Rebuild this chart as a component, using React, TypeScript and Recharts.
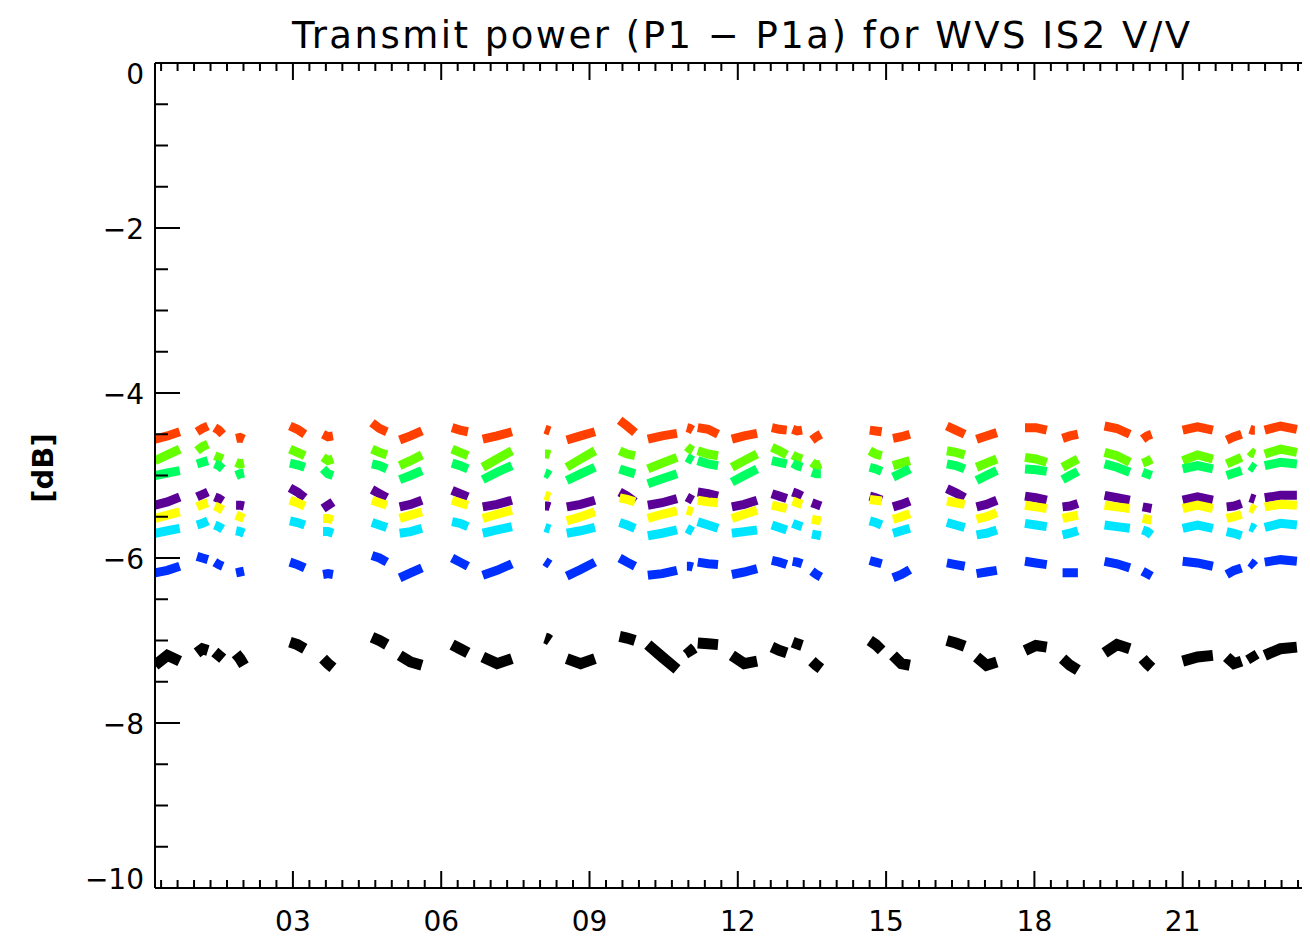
import { LineChart, Line, XAxis, YAxis } from "recharts";

// one row per pass: start / middle / end time of the pass, hours of the day
const passes: number[][] = [
  [0.21, 0.46, 0.71], [1.06, 1.17, 1.28], [1.42, 1.5, 1.58], [1.85, 1.93, 2.01],
  [2.94, 3.09, 3.24], [3.61, 3.71, 3.81], [4.6, 4.75, 4.9], [5.16, 5.38, 5.61],
  [6.22, 6.38, 6.54], [6.84, 7.13, 7.43], [8.1, 8.15, 8.2], [8.54, 8.82, 9.11],
  [9.61, 9.76, 9.92], [10.18, 10.47, 10.77], [10.97, 11.03, 11.09], [11.19, 11.4, 11.6],
  [11.88, 12.13, 12.39], [12.69, 12.84, 12.99], [13.11, 13.2, 13.3], [13.5, 13.59, 13.68],
  [14.67, 14.79, 14.91], [15.14, 15.31, 15.48], [16.23, 16.41, 16.59], [16.83, 17.03, 17.24],
  [17.81, 18.03, 18.25], [18.57, 18.72, 18.88], [19.42, 19.67, 19.93], [20.19, 20.28, 20.37],
  [21.0, 21.3, 21.61], [21.89, 22.04, 22.19], [22.36, 22.41, 22.46], [22.66, 22.98, 23.31],
  [23.5, 23.65, 23.8],
];

// transmit power per pass [dB], same order as passes
const red: number[][] = [
  [-4.56, -4.52, -4.47], [-4.47, -4.43, -4.4], [-4.42, -4.45, -4.5], [-4.55, -4.54, -4.56],
  [-4.4, -4.44, -4.5], [-4.5, -4.53, -4.52], [-4.36, -4.43, -4.47], [-4.57, -4.52, -4.46],
  [-4.42, -4.45, -4.47], [-4.56, -4.52, -4.47], [-4.44, -4.45, -4.46], [-4.57, -4.52, -4.47],
  [-4.33, -4.4, -4.48], [-4.56, -4.52, -4.49], [-4.42, -4.43, -4.45], [-4.42, -4.44, -4.5],
  [-4.56, -4.52, -4.49], [-4.42, -4.44, -4.45], [-4.44, -4.46, -4.45], [-4.57, -4.53, -4.5],
  [-4.45, -4.46, -4.47], [-4.55, -4.53, -4.5], [-4.4, -4.45, -4.5], [-4.56, -4.52, -4.48],
  [-4.42, -4.42, -4.45], [-4.55, -4.52, -4.5], [-4.4, -4.43, -4.5], [-4.56, -4.52, -4.5],
  [-4.45, -4.41, -4.45], [-4.57, -4.53, -4.5], [-4.44, -4.45, -4.45], [-4.45, -4.4, -4.44],
  [-4.5, -4.47, -4.47],
];
const lime: number[][] = [
  [-4.82, -4.75, -4.68], [-4.7, -4.65, -4.62], [-4.76, -4.78, -4.8], [-4.84, -4.86, -4.85],
  [-4.68, -4.72, -4.76], [-4.78, -4.82, -4.8], [-4.68, -4.72, -4.75], [-4.88, -4.82, -4.75],
  [-4.68, -4.72, -4.76], [-4.9, -4.8, -4.7], [-4.74, -4.74, -4.75], [-4.9, -4.8, -4.7],
  [-4.7, -4.74, -4.76], [-4.92, -4.85, -4.78], [-4.65, -4.68, -4.7], [-4.7, -4.74, -4.76],
  [-4.9, -4.82, -4.74], [-4.66, -4.7, -4.75], [-4.75, -4.78, -4.8], [-4.84, -4.88, -4.86],
  [-4.7, -4.74, -4.76], [-4.88, -4.85, -4.82], [-4.7, -4.72, -4.75], [-4.9, -4.85, -4.8],
  [-4.78, -4.8, -4.84], [-4.9, -4.85, -4.8], [-4.72, -4.76, -4.84], [-4.85, -4.83, -4.8],
  [-4.82, -4.75, -4.8], [-4.86, -4.82, -4.78], [-4.7, -4.73, -4.74], [-4.74, -4.68, -4.72],
  [-4.8, -4.78, -4.76],
];
const green: number[][] = [
  [-5.0, -4.97, -4.94], [-4.86, -4.84, -4.82], [-4.86, -4.88, -4.92], [-5.0, -4.98, -4.97],
  [-4.85, -4.87, -4.9], [-4.92, -4.98, -5.0], [-4.86, -4.88, -4.92], [-5.05, -5.0, -4.94],
  [-4.85, -4.88, -4.92], [-5.05, -4.96, -4.88], [-4.97, -4.98, -5.0], [-5.06, -4.98, -4.9],
  [-4.92, -4.95, -4.98], [-5.1, -5.04, -4.98], [-4.78, -4.8, -4.82], [-4.82, -4.86, -4.88],
  [-5.08, -5.0, -4.92], [-4.82, -4.84, -4.86], [-4.85, -4.88, -4.9], [-4.96, -4.98, -4.98],
  [-4.9, -4.92, -4.95], [-5.02, -4.97, -4.92], [-4.86, -4.88, -4.92], [-5.06, -5.0, -4.94],
  [-4.92, -4.93, -4.95], [-5.05, -5.0, -4.95], [-4.86, -4.9, -4.96], [-4.96, -4.98, -5.0],
  [-4.92, -4.88, -4.92], [-5.0, -4.97, -4.94], [-4.88, -4.9, -4.92], [-4.88, -4.84, -4.86],
  [-4.94, -4.92, -4.92],
];
const purple: number[][] = [
  [-5.36, -5.32, -5.26], [-5.26, -5.23, -5.2], [-5.26, -5.28, -5.31], [-5.36, -5.36, -5.37],
  [-5.15, -5.2, -5.27], [-5.4, -5.36, -5.32], [-5.17, -5.22, -5.27], [-5.38, -5.35, -5.3],
  [-5.18, -5.22, -5.26], [-5.38, -5.35, -5.3], [-5.37, -5.37, -5.38], [-5.38, -5.35, -5.3],
  [-5.2, -5.25, -5.32], [-5.36, -5.33, -5.28], [-5.26, -5.28, -5.3], [-5.2, -5.22, -5.25],
  [-5.38, -5.35, -5.3], [-5.22, -5.25, -5.28], [-5.2, -5.22, -5.25], [-5.33, -5.35, -5.37],
  [-5.25, -5.27, -5.3], [-5.38, -5.35, -5.31], [-5.16, -5.21, -5.27], [-5.38, -5.35, -5.3],
  [-5.25, -5.27, -5.3], [-5.38, -5.37, -5.34], [-5.24, -5.27, -5.3], [-5.38, -5.39, -5.4],
  [-5.3, -5.26, -5.3], [-5.38, -5.37, -5.34], [-5.27, -5.28, -5.29], [-5.27, -5.24, -5.24],
  [-5.3, -5.28, -5.28],
];
const yellow: number[][] = [
  [-5.52, -5.48, -5.44], [-5.38, -5.35, -5.33], [-5.37, -5.39, -5.42], [-5.48, -5.5, -5.52],
  [-5.3, -5.33, -5.37], [-5.52, -5.52, -5.54], [-5.3, -5.33, -5.36], [-5.52, -5.48, -5.44],
  [-5.3, -5.33, -5.36], [-5.52, -5.47, -5.42], [-5.24, -5.25, -5.26], [-5.55, -5.5, -5.44],
  [-5.27, -5.29, -5.32], [-5.52, -5.47, -5.43], [-5.42, -5.43, -5.44], [-5.3, -5.32, -5.33],
  [-5.52, -5.47, -5.42], [-5.36, -5.38, -5.4], [-5.31, -5.33, -5.35], [-5.53, -5.54, -5.55],
  [-5.29, -5.3, -5.31], [-5.53, -5.5, -5.46], [-5.31, -5.33, -5.35], [-5.53, -5.5, -5.45],
  [-5.36, -5.38, -5.4], [-5.52, -5.5, -5.48], [-5.36, -5.38, -5.4], [-5.52, -5.53, -5.54],
  [-5.4, -5.36, -5.4], [-5.52, -5.5, -5.47], [-5.39, -5.4, -5.42], [-5.38, -5.35, -5.36],
  [-5.4, -5.38, -5.38],
];
const cyan: number[][] = [
  [-5.7, -5.67, -5.64], [-5.6, -5.58, -5.55], [-5.6, -5.62, -5.65], [-5.67, -5.68, -5.7],
  [-5.55, -5.57, -5.6], [-5.68, -5.68, -5.7], [-5.57, -5.6, -5.63], [-5.7, -5.68, -5.64],
  [-5.56, -5.58, -5.62], [-5.7, -5.66, -5.62], [-5.63, -5.64, -5.65], [-5.7, -5.67, -5.63],
  [-5.57, -5.6, -5.64], [-5.73, -5.7, -5.66], [-5.64, -5.66, -5.68], [-5.56, -5.6, -5.64],
  [-5.7, -5.68, -5.66], [-5.6, -5.63, -5.66], [-5.58, -5.6, -5.62], [-5.71, -5.72, -5.73],
  [-5.55, -5.57, -5.6], [-5.7, -5.67, -5.64], [-5.57, -5.6, -5.63], [-5.72, -5.7, -5.66],
  [-5.58, -5.6, -5.62], [-5.72, -5.7, -5.67], [-5.6, -5.62, -5.64], [-5.66, -5.68, -5.72],
  [-5.64, -5.6, -5.64], [-5.68, -5.7, -5.73], [-5.62, -5.63, -5.65], [-5.63, -5.58, -5.6],
  [-5.64, -5.62, -5.62],
];
const blue: number[][] = [
  [-6.18, -6.15, -6.1], [-5.98, -6.0, -6.02], [-6.05, -6.08, -6.1], [-6.18, -6.17, -6.16],
  [-6.05, -6.08, -6.12], [-6.2, -6.19, -6.2], [-5.97, -6.0, -6.05], [-6.24, -6.18, -6.12],
  [-6.0, -6.05, -6.1], [-6.21, -6.15, -6.07], [-6.04, -6.06, -6.08], [-6.22, -6.14, -6.05],
  [-6.0, -6.05, -6.1], [-6.21, -6.19, -6.15], [-6.1, -6.1, -6.11], [-6.05, -6.07, -6.08],
  [-6.2, -6.17, -6.13], [-6.03, -6.05, -6.08], [-6.04, -6.05, -6.07], [-6.16, -6.2, -6.23],
  [-6.03, -6.05, -6.07], [-6.24, -6.2, -6.14], [-6.06, -6.08, -6.1], [-6.19, -6.17, -6.15],
  [-6.04, -6.06, -6.08], [-6.18, -6.18, -6.18], [-6.04, -6.07, -6.12], [-6.16, -6.19, -6.22],
  [-6.04, -6.06, -6.1], [-6.2, -6.15, -6.12], [-6.05, -6.07, -6.1], [-6.05, -6.02, -6.04],
  [-6.06, -6.05, -6.05],
];
const black: number[][] = [
  [-7.3, -7.18, -7.25], [-7.15, -7.1, -7.12], [-7.14, -7.18, -7.22], [-7.16, -7.22, -7.3],
  [-7.02, -7.05, -7.1], [-7.22, -7.28, -7.33], [-6.96, -7.0, -7.05], [-7.18, -7.26, -7.3],
  [-7.05, -7.1, -7.15], [-7.2, -7.28, -7.22], [-6.97, -6.98, -7.0], [-7.22, -7.28, -7.22],
  [-6.95, -6.97, -7.0], [-7.05, -7.2, -7.35], [-7.08, -7.12, -7.18], [-7.03, -7.04, -7.05],
  [-7.18, -7.28, -7.25], [-7.08, -7.12, -7.15], [-7.02, -7.04, -7.06], [-7.25, -7.3, -7.34],
  [-7.0, -7.05, -7.12], [-7.18, -7.28, -7.3], [-7.0, -7.03, -7.07], [-7.2, -7.3, -7.26],
  [-7.12, -7.06, -7.08], [-7.22, -7.3, -7.36], [-7.15, -7.05, -7.1], [-7.22, -7.28, -7.33],
  [-7.25, -7.2, -7.18], [-7.2, -7.28, -7.25], [-7.15, -7.2, -7.25], [-7.18, -7.1, -7.08],
  [-7.22, -7.2, -7.22],
];

const xMajors = [3, 6, 9, 12, 15, 18, 21];
const xLabels = ["03", "06", "09", "12", "15", "18", "21"];
const yMajors = [0, -2, -4, -6, -8, -10];
const yLabels = ["0", "\u22122", "\u22124", "\u22126", "\u22128", "\u221210"];

const X_DOMAIN: [number, number] = [0.21, 23.98];
// minor ticks every 20 min, every 0.5 dB
const xTicks = Array.from({ length: 72 }, (_, i) => (i + 1) / 3).filter(
  (t) => t > X_DOMAIN[0] && t < X_DOMAIN[1]
);
const yTicks = Array.from({ length: 21 }, (_, i) => -i / 2);

const FONT = "'DejaVu Sans', sans-serif";

const series = [
  { key: "red", color: "#ff4000", vals: red, w: 9 },
  { key: "lime", color: "#66ff00", vals: lime, w: 9 },
  { key: "green", color: "#00ff60", vals: green, w: 9 },
  { key: "purple", color: "#5a0096", vals: purple, w: 9 },
  { key: "yellow", color: "#ffff00", vals: yellow, w: 9 },
  { key: "cyan", color: "#00e5ff", vals: cyan, w: 9 },
  { key: "blue", color: "#0030ff", vals: blue, w: 9 },
  { key: "black", color: "#000000", vals: black, w: 11 },
];

const toPoints = (vals: number[][]) =>
  passes.flatMap((ts, i) => [
    ...ts.map((h, j) => ({ h, v: vals[i][j] })),
    { h: ts[ts.length - 1], v: null },
  ]);

const isXMajor = (t: number) => Math.round(t * 3) % 9 === 0;
const isYMajor = (v: number) => Math.round(-v * 2) % 4 === 0;

const BottomTick = ({ x, y, payload }: any) => {
  const major = isXMajor(payload.value);
  const i = xMajors.indexOf(Math.round(payload.value));
  return (
    <g>
      <line x1={x} x2={x} y1={y} y2={y - (major ? 17 : 8)} stroke="#000" strokeWidth={2} />
      {major && i >= 0 && (
        <text x={x} y={y + 43} textAnchor="middle" fontSize={28} fontFamily={FONT} fill="#000">
          {xLabels[i]}
        </text>
      )}
    </g>
  );
};

const TopTick = ({ x, y, payload }: any) => (
  <line x1={x} x2={x} y1={y} y2={y + (isXMajor(payload.value) ? 17 : 8)} stroke="#000" strokeWidth={2} />
);

const LeftTick = ({ x, y, payload }: any) => {
  const major = isYMajor(payload.value);
  const i = yMajors.indexOf(Math.round(payload.value));
  // end labels are pulled inside the axis range
  const shift = i === 0 ? 10 : i === yMajors.length - 1 ? -10 : 0;
  return (
    <g>
      <line x1={x} x2={x + (major ? 25 : 13)} y1={y} y2={y} stroke="#000" strokeWidth={2} />
      {major && i >= 0 && (
        <text x={x - 11} y={y + 11 + shift} textAnchor="end" fontSize={28} fontFamily={FONT} fill="#000">
          {yLabels[i]}
        </text>
      )}
    </g>
  );
};

const RightTick = ({ x, y, payload }: any) => (
  <line x1={x} x2={x - (isYMajor(payload.value) ? 25 : 13)} y1={y} y2={y} stroke="#000" strokeWidth={2} />
);

export default function App() {
  return (
    <div style={{ position: "relative", width: 1302, height: 942, overflow: "hidden", background: "#fff" }}>
      <svg width={1302} height={942} style={{ position: "absolute", left: 0, top: 0 }}>
        <text
          x={284}
          y={40}
          textLength={898}
          lengthAdjust="spacing"
          fontSize={37}
          fontFamily={FONT}
          fill="#000"
        >
          Transmit power (P1 {"\u2212"} P1a) for WVS IS2 V/V
        </text>
        <text
          x={0}
          y={0}
          transform="translate(45 460) rotate(-90)"
          textAnchor="middle"
          fontSize={29}
          fontWeight="bold"
          fontFamily={FONT}
          fill="#000"
        >
          [dB]
        </text>
      </svg>
      <div style={{ position: "absolute", left: 0, top: 0 }}>
        <LineChart width={1340} height={930} margin={{ top: 54, right: 17, bottom: 49, left: 47 }}>
          <XAxis
            xAxisId="b"
            orientation="bottom"
            dataKey="h"
            type="number"
            domain={X_DOMAIN}
            allowDataOverflow
            ticks={xTicks}
            interval={0}
            height={1}
            tickSize={0}
            tickMargin={0}
            tickLine={false}
            axisLine={{ stroke: "#000", strokeWidth: 2 }}
            tick={<BottomTick />}
          />
          <XAxis
            xAxisId="t"
            orientation="top"
            dataKey="h"
            type="number"
            domain={X_DOMAIN}
            allowDataOverflow
            ticks={xTicks}
            interval={0}
            height={1}
            tickSize={0}
            tickMargin={0}
            tickLine={false}
            axisLine={{ stroke: "#000", strokeWidth: 2 }}
            tick={<TopTick />}
          />
          <YAxis
            yAxisId="l"
            orientation="left"
            type="number"
            domain={[-10, 0]}
            allowDataOverflow
            ticks={yTicks}
            interval={0}
            width={100}
            tickSize={0}
            tickMargin={0}
            tickLine={false}
            axisLine={{ stroke: "#000", strokeWidth: 2 }}
            tick={<LeftTick />}
          />
          <YAxis
            yAxisId="r"
            orientation="right"
            type="number"
            domain={[-10, 0]}
            allowDataOverflow
            ticks={yTicks}
            interval={0}
            width={1}
            tickSize={0}
            tickMargin={0}
            tickLine={false}
            axisLine={{ stroke: "#000", strokeWidth: 2 }}
            tick={<RightTick />}
          />
          {series.map((s) => (
            <Line
              key={s.key}
              xAxisId="b"
              yAxisId="l"
              data={toPoints(s.vals)}
              dataKey="v"
              type="linear"
              stroke={s.color}
              strokeWidth={s.w}
              strokeLinecap="butt"
              dot={false}
              activeDot={false}
              connectNulls={false}
              isAnimationActive={false}
            />
          ))}
        </LineChart>
      </div>
    </div>
  );
}
